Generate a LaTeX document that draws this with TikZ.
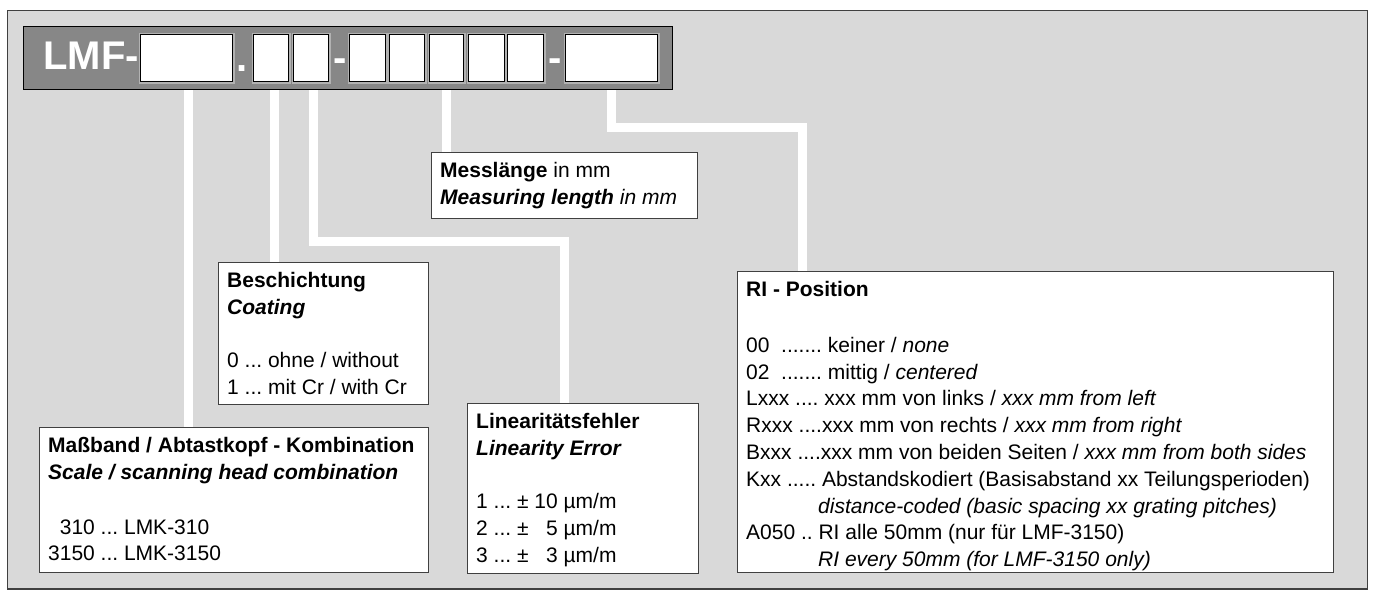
\documentclass[tikz,border=0pt]{standalone}
\usepackage{fontspec}
\setmainfont{Liberation Sans}
\usepackage{xcolor}
\usepackage{tikz}
\frenchspacing

\begin{document}
\begin{tikzpicture}[x=1pt, y=-1pt, every node/.style={font=\fontsize{21}{26.8}\selectfont}]
  \tikzstyle{digit}=[rectangle,draw=black,line width=1.2pt,fill=white,minimum height=47pt,inner sep=0pt,anchor=north west,preaction={draw=black!30,line width=4pt}]
  \tikzstyle{sep}=[text=white,font=\fontsize{40}{40}\selectfont\bfseries,inner sep=0pt,anchor=base]
  \tikzstyle{infobox}=[rectangle,draw=black!75,line width=1pt,fill=white,anchor=north west,inner sep=0pt]
  \tikzstyle{infotext}=[anchor=north west,align=left,inner xsep=9pt,inner ysep=10pt]
  \tikzstyle{link}=[draw=white,line width=9pt]
  \useasboundingbox (0,0) rectangle (1373,593);
  % frame and code bar
  \node[rectangle,draw=black!75,line width=1.5pt,fill=black!15,anchor=north west,inner sep=0pt,minimum width=1360pt,minimum height=578pt] (frame) at (6.7,10) {};
  \node[rectangle,draw=black,line width=1.2pt,fill=black!47,anchor=north west,inner sep=0pt,minimum width=649pt,minimum height=63pt] (bar) at (22.7,26) {};
  \node[sep,anchor=base east] (lmf) at (139,70) {LMF-};
  \foreach \n/\x/\w in {1/140/92,2/253/35,3/293/35,4/349/36,5/389/35,6/429/34,7/468/36,8/507/36,9/565/92} {
    \node[digit,minimum width=\w pt] (d\n) at (\x,34) {};
  }
  \node[sep] (dot) at (242,72) {.};
  \node[sep] (dash1) at (340,72) {-};
  \node[sep] (dash2) at (555,72) {-};
  % description boxes
  \node[infobox,minimum width=389pt,minimum height=145pt] (mass) at (39,427) {};
  \node[infotext] (masstxt) at (mass.north west) {\textbf{Maßband / Abtastkopf - Kombination}\\
    \textbf{\textit{Scale / scanning head combination}}\\[28pt]
    \phantom{3}310 ... LMK-310\\
    3150 ... LMK-3150};
  \node[infobox,minimum width=210pt,minimum height=142pt] (coat) at (218,262) {};
  \node[infotext] (coattxt) at (coat.north west) {\textbf{Beschichtung}\\
    \textbf{\textit{Coating}}\\[26.8pt]
    0 ... ohne / without\\
    1 ... mit Cr / with Cr};
  \node[infobox,minimum width=231pt,minimum height=170pt] (lin) at (467,403) {};
  \node[infotext] (lintxt) at (lin.north west) {\textbf{Linearitätsfehler}\\
    \textbf{\textit{Linearity Error}}\\[26.8pt]
    1 ... ± 10 µm/m\\
    2 ... ± \phantom{1}5 µm/m\\
    3 ... ± \phantom{1}3 µm/m};
  \node[infobox,minimum width=266pt,minimum height=66pt] (meas) at (431,152) {};
  \node[infotext] (meastxt) at (meas.north west) {\textbf{Messlänge} in mm\\
    \textbf{\textit{Measuring length}} \textit{in mm}};
  \node[infobox,minimum width=596pt,minimum height=301pt] (ri) at (737,271) {};
  \node[infotext] (ritxt) at (ri.north west) {\textbf{RI - Position}\\[29pt]
    00\ \ ....... keiner / \textit{none}\\
    02\ \ ....... mittig / \textit{centered}\\
    Lxxx .... xxx mm von links / \textit{xxx mm from left}\\
    Rxxx ....xxx mm von rechts / \textit{xxx mm from right}\\
    Bxxx ....xxx mm von beiden Seiten / \textit{xxx mm from both sides}\\
    Kxx ..... Abstandskodiert (Basisabstand xx Teilungsperioden)\\
    \hspace*{72pt}\textit{distance-coded (basic spacing xx grating pitches)}\\
    A050 .. RI alle 50mm (nur für LMF-3150)\\
    \hspace*{72pt}\textit{RI every 50mm (for LMF-3150 only)}};
  % connectors
  \coordinate (c1) at ([xshift=2pt]d1.south);
  \coordinate (c2) at ([xshift=3.5pt]d2.south);
  \coordinate (c3) at ([xshift=2.5pt]d3.south);
  \coordinate (k3) at (564,242);
  \coordinate (k5) at (802,128);
  \draw[link] (c1 |- bar.south) -- (c1 |- mass.north);
  \draw[link] (c2 |- bar.south) -- (c2 |- coat.north);
  \draw[link] (c3 |- bar.south) |- (k3) -- (k3 |- lin.north);
  \draw[link] (d6.south |- bar.south) -- (d6.south |- meas.north);
  \draw[link] (d9.south |- bar.south) |- (k5) -- (k5 |- ri.north);
\end{tikzpicture}
\end{document}
